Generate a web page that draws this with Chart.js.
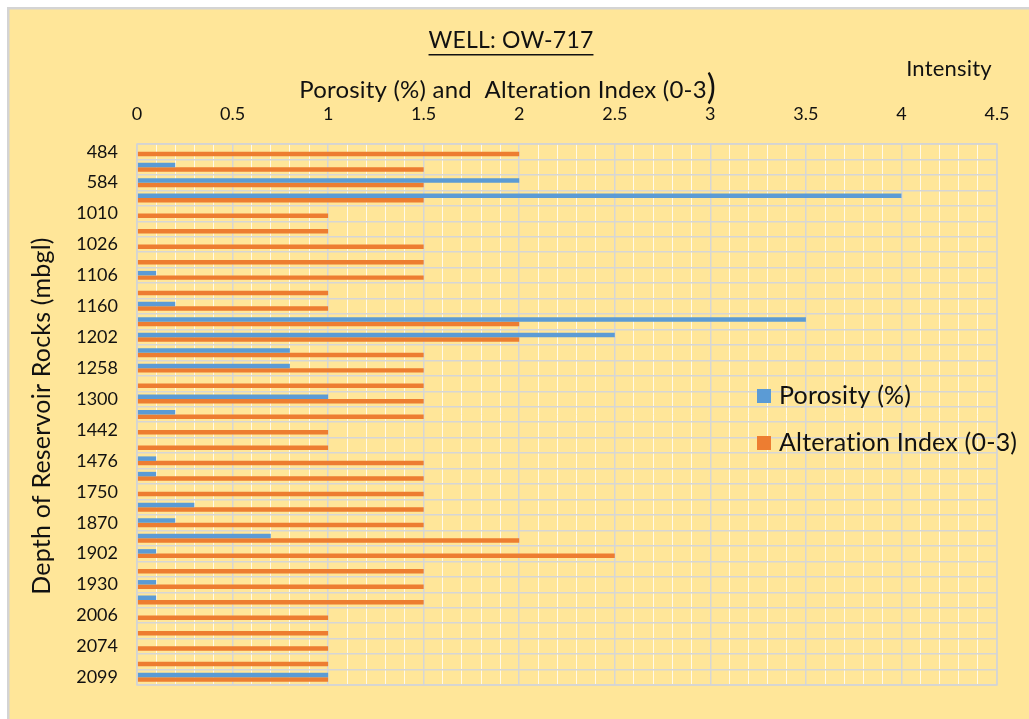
<!DOCTYPE html>
<html>
<head>
<meta charset="utf-8">
<script src="https://cdn.jsdelivr.net/npm/chart.js@4/dist/chart.umd.min.js"></script>
<style>
  html, body { margin: 0; padding: 0; background: #ffffff; }
  #wrap { width: 1029px; height: 719px; }
</style>
</head>
<body>
<div id="wrap"><canvas id="well-chart" width="1029" height="719"></canvas></div>
<script>
// depth labels (mbgl), only every other one is printed on the chart
var depths = ['484', '', '584', '', '1010', '', '1026', '', '1106', '', '1160', '',
  '1202', '', '1258', '', '1300', '', '1442', '', '1476', '', '1750', '', '1870', '',
  '1902', '', '1930', '', '2006', '', '2074', '', '2099'];

var porosity = [0, 0.2, 2, 4, 0, 0, 0, 0, 0.1, 0, 0.2, 3.5,
  2.5, 0.8, 0.8, 0, 1, 0.2, 0, 0, 0.1, 0.1, 0, 0.3, 0.2, 0.7,
  0.1, 0, 0.1, 0.1, 0, 0, 0, 0, 1];

var alteration = [2, 1.5, 1.5, 1.5, 1, 1, 1.5, 1.5, 1.5, 1, 1, 2,
  2, 1.5, 1.5, 1.5, 1.5, 1.5, 1, 1, 1.5, 1.5, 1.5, 1.5, 1.5, 2,
  2.5, 1.5, 1.5, 1.5, 1, 1, 1, 1, 1];

var xTicks = [0, 0.5, 1, 1.5, 2, 2.5, 3, 3.5, 4, 4.5];

var font = 'Lato, "Open Sans", sans-serif';

function isMajor(v) {
  return xTicks.some(function (t) { return Math.abs(t - v) < 1e-6; });
}

var frame = {
  id: 'frame',
  beforeDraw: function (chart) {
    var c = chart.ctx;
    c.save();
    c.fillStyle = '#ffffff';
    c.fillRect(0, 0, chart.width, chart.height);
    c.fillStyle = '#FFE699';
    c.fillRect(8, 8, chart.width, chart.height);
    c.strokeStyle = '#D4D4D4';
    c.lineWidth = 2.5;
    c.strokeRect(8.25, 8.25, chart.width + 10, chart.height + 10);
    c.restore();
  },
  afterDraw: function (chart) {
    var c = chart.ctx;
    var area = chart.chartArea;
    c.save();

    // plot border
    c.strokeStyle = '#D4D4D4';
    c.lineWidth = 1.5;
    c.strokeRect(area.left, area.top, area.right - area.left, area.bottom - area.top);

    c.fillStyle = '#111111';
    c.textBaseline = 'middle';
    c.letterSpacing = '0.2px';

    // title, underlined
    c.font = '23px ' + font;
    c.textAlign = 'center';
    var title = 'WELL: OW-717';
    c.fillText(title, 511, 41);
    var w = c.measureText(title).width;
    c.fillRect(511 - w / 2, 54, w, 1.5);

    // x axis title with the oversized bracket
    c.font = '24px ' + font;
    var xt = 'Porosity (%) and  Alteration Index (0-3';
    c.textAlign = 'left';
    var xw = c.measureText(xt).width;
    var x0 = 503 - xw / 2;
    c.fillText(xt, x0, 90);
    c.font = '34px ' + font;
    c.fillText(')', x0 + xw, 88);

    c.font = '22px ' + font;
    c.textAlign = 'center';
    c.fillText('Intensity', 949, 69);

    // y axis title
    c.save();
    c.translate(42, 416);
    c.rotate(-Math.PI / 2);
    c.font = '25px ' + font;
    c.fillText('Depth of Reservoir Rocks (mbgl)', 0, 0);
    c.restore();

    // legend inside the plot
    var ly = [396, 443];
    chart.data.datasets.forEach(function (ds, i) {
      c.fillStyle = ds.backgroundColor;
      c.fillRect(757, ly[i] - 7, 14, 14);
      c.fillStyle = '#111111';
      c.font = '25px ' + font;
      c.textAlign = 'left';
      c.fillText(ds.label, 779, ly[i]);
    });
    c.restore();
  }
};

new Chart(document.getElementById('well-chart'), {
  type: 'bar',
  data: {
    labels: depths,
    datasets: [{
      label: 'Porosity (%)',
      data: porosity,
      backgroundColor: '#5B9BD5'
    }, {
      label: 'Alteration Index (0-3)',
      data: alteration,
      backgroundColor: '#ED7D31'
    }]
  },
  options: {
    indexAxis: 'y',
    responsive: false,
    animation: false,
    devicePixelRatio: 1,
    layout: {
      padding: { left: 0, right: 32, top: 0, bottom: 34 }
    },
    datasets: {
      bar: { categoryPercentage: 0.58, barPercentage: 1.0 }
    },
    plugins: {
      legend: { display: false },
      tooltip: { enabled: false }
    },
    scales: {
      x: {
        position: 'top',
        min: 0,
        max: 4.5,
        afterFit: function (scale) { scale.height = 144; },
        ticks: {
          stepSize: 0.1,
          autoSkip: false,
          maxRotation: 0,
          padding: 19,
          color: '#111111',
          font: { family: font, size: 18 },
          callback: function (v) { return isMajor(v) ? String(Math.round(v * 10) / 10) : ''; }
        },
        grid: {
          drawTicks: false,
          color: function (ctx) {
            return isMajor(ctx.tick.value) ? '#D6D6D6' : 'rgba(255,255,255,0.8)';
          },
          lineWidth: function (ctx) { return isMajor(ctx.tick.value) ? 1.5 : 1; }
        },
        border: { display: false }
      },
      y: {
        afterFit: function (scale) { scale.width = 137; },
        ticks: {
          autoSkip: false,
          padding: 19,
          color: '#111111',
          font: { family: font, size: 18 }
        },
        grid: {
          drawTicks: false,
          color: '#D6D6D6',
          lineWidth: 1.5
        },
        border: { display: false }
      }
    }
  },
  plugins: [frame]
});
</script>
</body>
</html>
